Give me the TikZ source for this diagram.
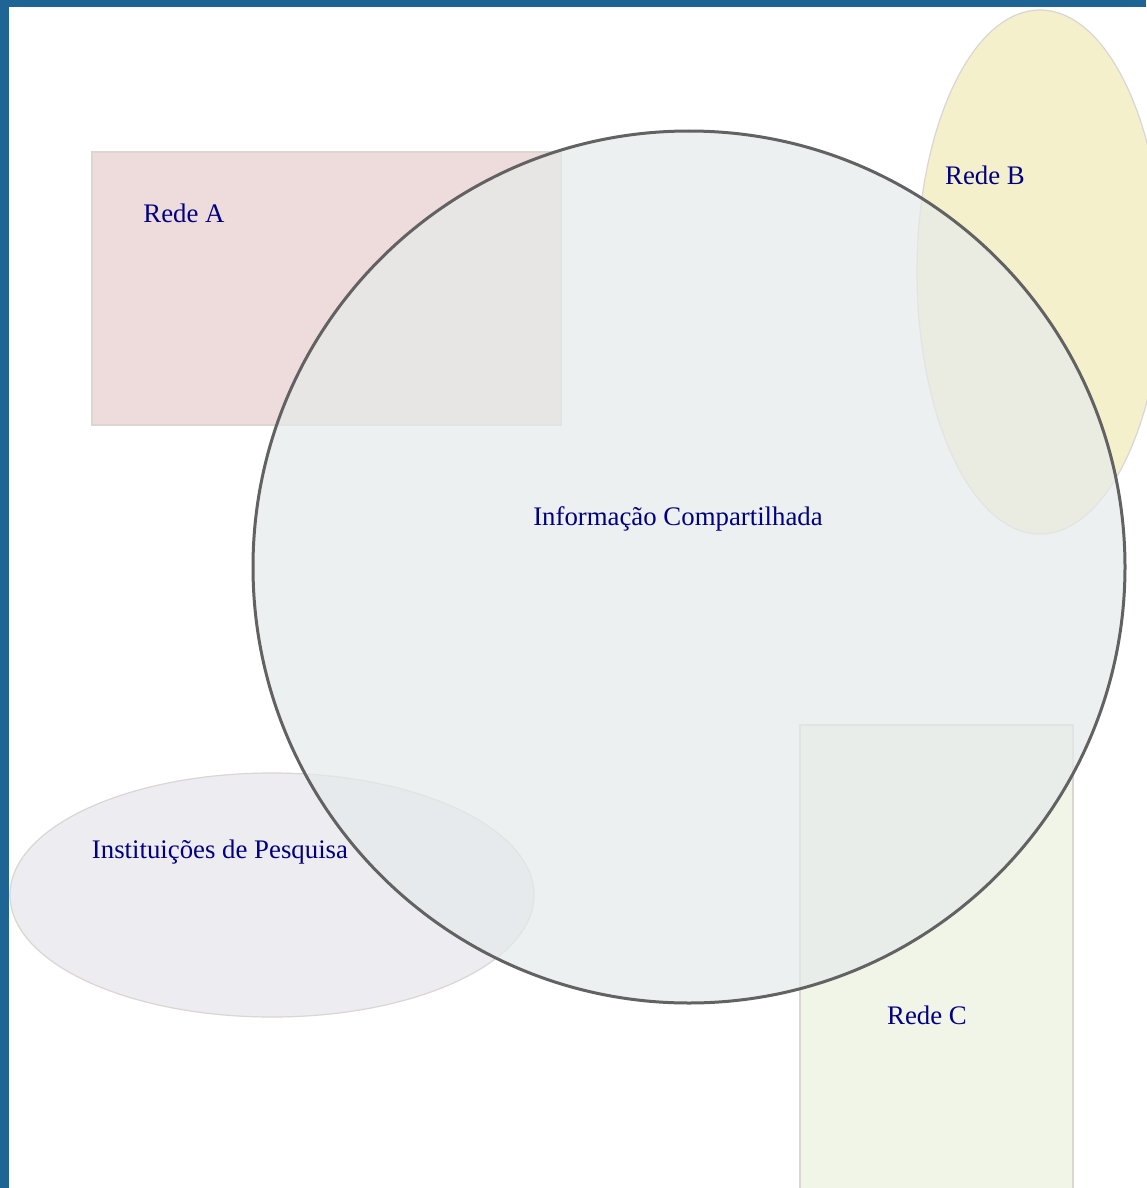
\documentclass[tikz,border=0pt]{standalone}
\usepackage{fontspec}
\setmainfont{Liberation Serif}
\definecolor{frameblue}{HTML}{1E6494}
\definecolor{pinkA}{HTML}{EEDCDC}
\definecolor{yellowB}{HTML}{F5F0CC}
\definecolor{greenC}{HTML}{F1F5E8}
\definecolor{lavI}{HTML}{ECECF1}
\definecolor{circfill}{HTML}{E6EAEA}
\definecolor{circline}{HTML}{626262}
\definecolor{edgegray}{HTML}{DAD6D2}
\definecolor{labelblue}{HTML}{000080}
\begin{document}
\begin{tikzpicture}[x=1pt,y=-1pt,
  lab/.style={text=labelblue,font=\fontsize{26.8}{31}\selectfont,inner sep=0pt},
  areaedge/.style={draw=edgegray,line width=1.2pt}]
\useasboundingbox (0,0) rectangle (1146,1188);
\fill[frameblue] (0,0) rectangle (1146,1188);
\fill[white] (9,7) rectangle (1146,1188);
% shapes
\path[areaedge,fill=pinkA] (92,152) rectangle (561,425);
\path[areaedge,fill=yellowB] (1040,272) ellipse [x radius=123,y radius=262];
\path[areaedge,fill=greenC] (800,725) rectangle (1073,1195);
\path[areaedge,fill=lavI] (272,895) ellipse [x radius=262,y radius=122];
\path[draw=circline,line width=3pt,fill=circfill,fill opacity=0.7] (689,567) circle [radius=436];
% labels
\node[lab] (ra) at (184,213) {Rede A};
\node[lab] (rb) at (985,175) {Rede B};
\node[lab] (ic) at (678,519) {Informação Compartilhada};
\node[lab] (ip) at (220,852) {Instituições de Pesquisa};
\node[lab] (rc) at (927,1015) {Rede C};
\end{tikzpicture}
\end{document}
